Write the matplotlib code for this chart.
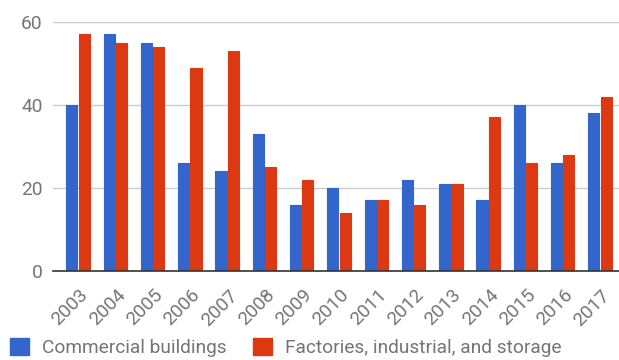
import numpy as np
import matplotlib
matplotlib.use("Agg")
from matplotlib import pyplot as plt
from matplotlib.patches import Rectangle
from matplotlib.transforms import ScaledTranslation

plt.rcParams['font.family'] = ['Roboto', 'DejaVu Sans']

# Data
years = [str(y) for y in range(2003, 2018)]
commercial = [40, 57, 55, 26, 24, 33, 16, 20, 17, 22, 21, 17, 40, 26, 38]
factories = [57, 55, 54, 49, 53, 25, 22, 14, 17, 16, 21, 37, 26, 28, 42]
series_names = ["Commercial buildings", "Factories, industrial, and storage"]
colors = ["#3366CC", "#DC3912"]
yticks = [0, 20, 40, 60]

text_col = '#757575'
fs = 13.8

fig = plt.figure(figsize=(6.19, 3.6), dpi=100)
ax = fig.add_axes([53 / 619, (360 - 271) / 360, 566 / 619, 249 / 360])

x = np.arange(len(years))
w = 0.3
gap = 0.015
for vals, off, col in ((commercial, -w / 2 - gap, colors[0]), (factories, w / 2 + gap, colors[1])):
    ax.bar(x + off, vals, width=w, color=col, edgecolor=col, linewidth=0.8,
           joinstyle='round', zorder=3)

ax.set_xlim(-0.67, 14.51)
ax.set_ylim(0, 60)
ax.set_yticks(yticks)
ax.set_yticklabels([str(v) for v in yticks], fontsize=fs, color=text_col)
ax.set_xticks(x)
ax.set_xticklabels(years, rotation=45, ha='right', va='center', rotation_mode='anchor',
                   fontsize=fs, color=text_col)
ax.tick_params(axis='both', length=0)
ax.tick_params(axis='y', pad=7.5)
ax.tick_params(axis='x', pad=0)
# push the slanted year labels down and to the right
shift = ScaledTranslation(7.5 / 100, -21.5 / 100, fig.dpi_scale_trans)
for lbl in ax.get_xticklabels():
    lbl.set_transform(lbl.get_transform() + shift)

ax.grid(axis='y', color='#cccccc', linewidth=1, zorder=0)
for s in ['top', 'right', 'left']:
    ax.spines[s].set_visible(False)
ax.spines['bottom'].set_color('#333333')
ax.spines['bottom'].set_linewidth(1.2)
ax.spines['bottom'].set_zorder(4)

# Legend along the bottom
handles = [Rectangle((0, 0), 1, 1, facecolor=c, edgecolor=c) for c in colors]
fig.legend(handles, series_names, loc='lower left', bbox_to_anchor=(10 / 619, 3 / 360),
           ncol=2, frameon=False, fontsize=fs, labelcolor=text_col,
           borderpad=0, borderaxespad=0,
           handlelength=0.99, handleheight=0.99, handletextpad=0.68, columnspacing=1.36)

fig.savefig("out.png", dpi=100)
